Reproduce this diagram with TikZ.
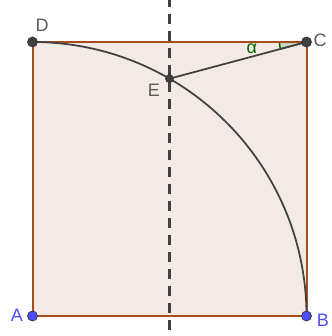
\documentclass[tikz,border=0pt]{standalone}
\usepackage{fontspec}
\setmainfont{Liberation Sans}
\usetikzlibrary{calc}
\definecolor{sqfill}{RGB}{243,233,229}
\definecolor{sqedge}{RGB}{170,75,30}
\definecolor{ptblue}{RGB}{77,77,255}
\definecolor{ptdark}{RGB}{64,64,64}
\definecolor{lbgray}{RGB}{90,90,90}
\definecolor{angreen}{RGB}{0,100,0}
\begin{document}
\begin{tikzpicture}[x=0.75pt, y=0.75pt,
    pt/.style={circle, draw=black!80, fill=#1, line width=0.5pt, inner sep=0pt, minimum size=7.5pt},
    lbl/.style={font=\fontsize{13.5}{15}\selectfont, text=#1},
    curve/.style={draw=ptdark, line width=1.3pt}]
    \useasboundingbox (0,0) rectangle (332,336);

    % Square ABCD
    \coordinate (A) at (32.5,20);
    \coordinate (B) at (306.5,20);
    \coordinate (C) at (306.5,294);
    \coordinate (D) at (32.5,294);
    \coordinate (E) at (169.5,257.3);
    \fill[sqfill] (A) -- (B) -- (C) -- (D) -- cycle;

    % Symmetry axis
    \coordinate (top) at (169.5,336);
    \coordinate (bot) at (169.5,0);
    \draw[ptdark, line width=1.6pt, dash pattern=on 7.5pt off 5.25pt, dash phase=2pt] (top) -- (bot);

    % Angle at C
    \fill[angreen, fill opacity=0.15] (C) -- ++(180:27) arc (180:195:27) -- cycle;
    \draw[angreen, line width=1.1pt] (C) -- ++(180:27) arc (180:195:27) -- cycle;
    \node[lbl=angreen] (alpha) at ($(C)+(187:55)$) {α};

    \draw[sqedge, line width=1.5pt] (A) -- (B) -- (C) -- (D) -- cycle;

    % Quarter circle and segment EC
    \draw[curve] (D) arc (90:0:274);
    \draw[curve] (E) -- (C);

    % Points
    \node[pt=ptblue] (nA) at (A) {};
    \node[pt=ptblue] (nB) at (B) {};
    \node[pt=ptdark] (nC) at (C) {};
    \node[pt=ptdark] (nD) at (D) {};
    \node[pt=ptdark, minimum size=6pt] (nE) at (E) {};
    \node[lbl=ptblue] (lA) at (17,21) {A};
    \node[lbl=ptblue] (lB) at (323,16) {B};
    \node[lbl=lbgray] (lC) at (320,296) {C};
    \node[lbl=lbgray] (lD) at (42,311) {D};
    \node[lbl=lbgray] (lE) at (154,246) {E};
\end{tikzpicture}
\end{document}
